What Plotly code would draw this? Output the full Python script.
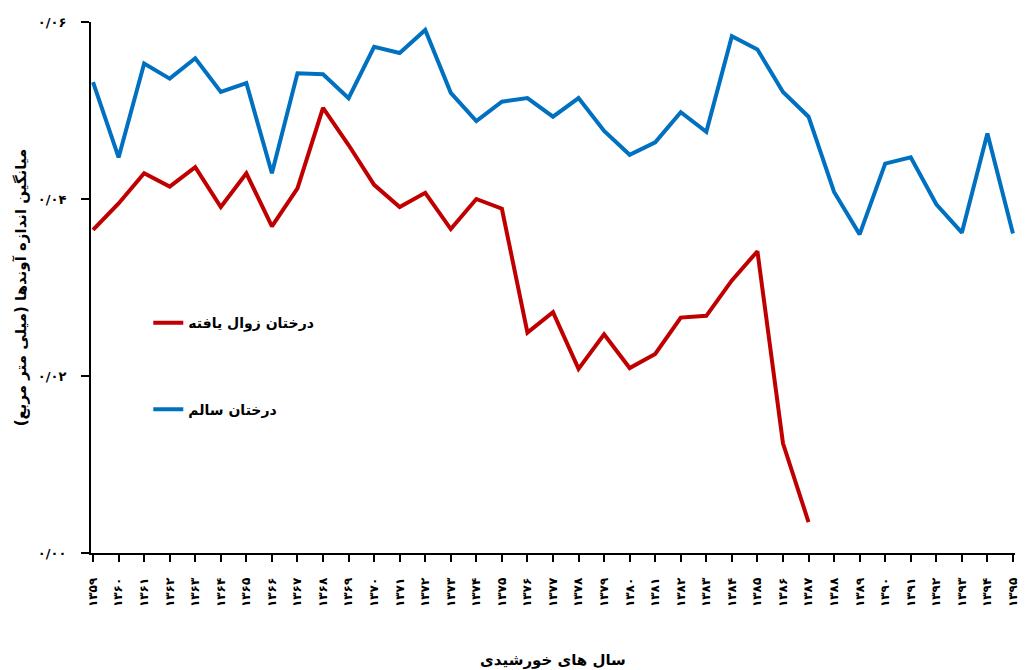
import plotly.graph_objects as go

years = ["۱۳۵۹", "۱۳۶۰", "۱۳۶۱", "۱۳۶۲", "۱۳۶۳", "۱۳۶۴", "۱۳۶۵", "۱۳۶۶", "۱۳۶۷", "۱۳۶۸",
         "۱۳۶۹", "۱۳۷۰", "۱۳۷۱", "۱۳۷۲", "۱۳۷۳", "۱۳۷۴", "۱۳۷۵", "۱۳۷۶", "۱۳۷۷", "۱۳۷۸",
         "۱۳۷۹", "۱۳۸۰", "۱۳۸۱", "۱۳۸۲", "۱۳۸۳", "۱۳۸۴", "۱۳۸۵", "۱۳۸۶", "۱۳۸۷", "۱۳۸۸",
         "۱۳۸۹", "۱۳۹۰", "۱۳۹۱", "۱۳۹۲", "۱۳۹۳", "۱۳۹۴", "۱۳۹۵"]

healthy = [0.0532, 0.0447, 0.0553, 0.0536, 0.0559, 0.0521, 0.0531, 0.0429, 0.0542, 0.0541,
           0.0514, 0.0572, 0.0565, 0.0591, 0.0520, 0.0488, 0.0510, 0.0514, 0.0493, 0.0514,
           0.0477, 0.0450, 0.0464, 0.0498, 0.0476, 0.0584, 0.0569, 0.0521, 0.0493, 0.0408,
           0.0360, 0.0440, 0.0447, 0.0394, 0.0362, 0.0474, 0.0361]

declined = [0.0365, 0.0395, 0.0429, 0.0414, 0.0436, 0.0391, 0.0429, 0.0369, 0.0412, 0.0503,
            0.0461, 0.0416, 0.0391, 0.0407, 0.0366, 0.0400, 0.0389, 0.0249, 0.0272, 0.0208,
            0.0247, 0.0209, 0.0225, 0.0266, 0.0268, 0.0308, 0.0341, 0.0124, 0.0035]

y_ticks = [0, 0.02, 0.04, 0.06]
y_tick_text = ["۰/۰۰", "۰/۰۲", "۰/۰۴", "۰/۰۶"]

name_declined = "درختان زوال یافته"
name_healthy = "درختان سالم"
x_title = "سال های خورشیدی"
y_title = "میانگین اندازه آوندها (میلی متر مربع)"

RED = "#C00000"
BLUE = "#0070C0"
FONT = "DejaVu Sans"

xi = list(range(len(years)))

fig = go.Figure()
fig.add_trace(go.Scatter(x=xi[:len(declined)], y=declined, mode="lines", name=name_declined,
                         line=dict(color=RED, width=4), legend="legend", showlegend=True))
fig.add_trace(go.Scatter(x=xi, y=healthy, mode="lines", name=name_healthy,
                         line=dict(color=BLUE, width=4), legend="legend2", showlegend=True))

fig.update_layout(
    width=1026, height=670,
    margin=dict(l=91, r=11, t=22, b=117, autoexpand=False),
    showlegend=True,
    paper_bgcolor="white", plot_bgcolor="white",
    font=dict(family=FONT, color="black"),
    legend=dict(x=0.062, y=0.433, xanchor="left", yanchor="middle",
                font=dict(family=FONT, size=14, color="black", weight="bold"),
                bgcolor="rgba(0,0,0,0)"),
    legend2=dict(x=0.062, y=0.27, xanchor="left", yanchor="middle",
                 font=dict(family=FONT, size=14, color="black", weight="bold"),
                 bgcolor="rgba(0,0,0,0)"),
    xaxis=dict(
        range=[-0.08, 36.08], tickmode="array", tickvals=xi, ticktext=years,
        tickangle=-90, ticks="outside", ticklen=7, tickwidth=2, tickcolor="black",
        showline=True, linecolor="black", linewidth=2, showgrid=False, zeroline=False,
        tickfont=dict(family=FONT, size=12, color="black", weight="bold"),
        ticklabelstandoff=11, automargin=False,
        title=dict(text=x_title, font=dict(family=FONT, size=15, color="black", weight="bold"),
                   standoff=48),
    ),
    yaxis=dict(
        range=[0, 0.06], tickmode="array", tickvals=y_ticks, ticktext=y_tick_text,
        ticks="outside", ticklen=8, tickwidth=2, tickcolor="black",
        showline=True, linecolor="black", linewidth=2, showgrid=False, zeroline=False,
        tickfont=dict(family=FONT, size=13, color="black", weight="bold"),
        ticklabelstandoff=12, automargin=False,
        title=dict(text=y_title, font=dict(family=FONT, size=15, color="black", weight="bold"),
                   standoff=8),
    ),
)

fig.write_html("out.html", config={"displayModeBar": False},
               post_script="document.body.style.margin='0';")
